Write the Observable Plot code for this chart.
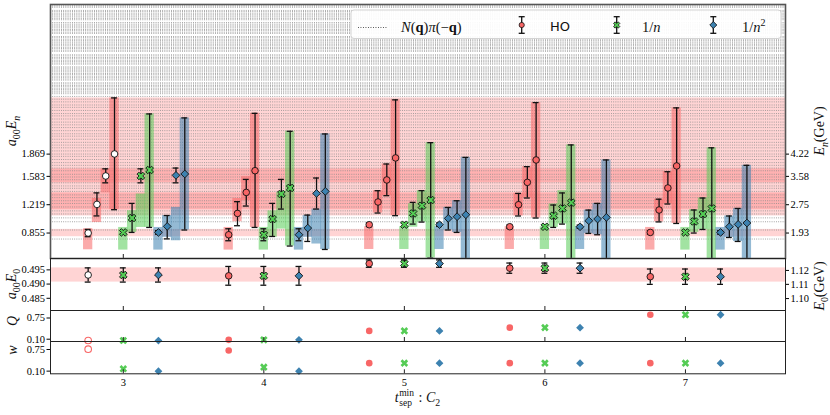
<!DOCTYPE html>
<html><head><meta charset="utf-8">
<script src="https://cdn.jsdelivr.net/npm/d3@7"></script>
<script src="https://cdn.jsdelivr.net/npm/@observablehq/plot@0.6"></script>
<style>
body{margin:0;background:#fff;}
#wrap{position:relative;width:830px;height:415px;overflow:hidden;background:#fff;}
#wrap svg{position:absolute;left:0;overflow:visible;}
</style></head><body><div id="wrap"></div>
<script>
// ---------------- data ----------------
const tGroups = [3, 4, 5, 6, 7];
const fits = ["HO", "1/n", "1/n2"];
const fitColors = ["#f86666", "#55cc55", "#3d82b0"];

// a00 E_n, n = 1..4 : [value, lower, upper]  (one row per t_sep^min group)
const enHO = [
  [[0.855,0.808,0.902],[1.223,1.075,1.371],[1.588,1.500,1.680],[1.871,1.155,2.591]],
  [[0.833,0.756,0.910],[1.107,0.949,1.258],[1.377,1.202,1.544],[1.656,0.927,2.393]],
  [[0.962,0.940,0.985],[1.254,1.112,1.399],[1.537,1.335,1.742],[1.820,1.078,2.566]],
  [[0.936,0.915,0.957],[1.219,1.074,1.364],[1.506,1.305,1.708],[1.794,1.048,2.531]],
  [[0.863,0.840,0.886],[1.151,0.998,1.290],[1.434,1.228,1.643],[1.717,0.978,2.463]]
];
const enN1 = [
  [[0.863,0.840,0.886],[1.048,0.863,1.236],[1.588,1.500,1.680],[1.665,0.927,2.385]],
  [[0.833,0.756,0.910],[1.035,0.811,1.236],[1.357,1.163,1.544],[1.434,0.688,2.162]],
  [[0.962,0.940,0.985],[1.107,0.970,1.249],[1.206,0.996,1.400],[1.279,0.533,2.016]],
  [[0.936,0.915,0.957],[1.077,0.927,1.215],[1.171,0.970,1.370],[1.245,0.500,1.987]],
  [[0.863,0.840,0.886],[1.004,0.855,1.151],[1.099,0.901,1.305],[1.171,0.450,1.950]]
];
const enN2 = [
  [[0.863,0.840,0.886],[0.940,0.780,1.080],[1.596,1.500,1.690],[1.614,0.894,2.334]],
  [[0.833,0.756,0.910],[0.919,0.747,1.086],[1.364,1.163,1.562],[1.390,0.644,2.128]],
  [[0.962,0.940,0.985],[1.043,0.894,1.184],[1.065,0.863,1.270],[1.090,0.400,1.827]],
  [[0.936,0.915,0.957],[1.013,0.850,1.150],[1.035,0.833,1.236],[1.056,0.350,1.794]],
  [[0.863,0.840,0.886],[0.936,0.798,1.074],[0.966,0.747,1.171],[0.984,0.300,1.725]]
];
// prior ranges [lower, upper] for each state
const prHO = [
  [[0.640,0.910],[0.990,1.300],[1.370,1.680],[1.155,2.591]],
  [[0.636,0.927],[1.000,1.300],[1.270,1.580],[0.927,2.393]],
  [[0.644,0.936],[1.112,1.399],[1.335,1.742],[1.078,2.566]],
  [[0.644,0.936],[1.074,1.364],[1.305,1.708],[1.048,2.531]],
  [[0.636,0.927],[0.998,1.290],[1.228,1.643],[0.978,2.463]]
];
const prN1 = [
  [[0.636,0.927],[0.863,1.142],[0.927,1.357],[0.927,2.385]],
  [[0.636,0.927],[0.800,1.140],[0.906,1.377],[0.688,2.162]],
  [[0.644,0.936],[0.930,1.230],[0.996,1.400],[0.533,2.016]],
  [[0.644,0.936],[0.927,1.228],[0.970,1.400],[0.450,1.987]],
  [[0.636,0.927],[0.863,1.155],[0.901,1.305],[0.450,1.950]]
];
const prN2 = [
  [[0.636,0.927],[0.800,1.080],[0.756,1.184],[0.894,2.334]],
  [[0.636,0.927],[0.800,1.080],[0.714,1.163],[0.644,2.128]],
  [[0.644,0.936],[0.894,1.184],[0.863,1.270],[0.400,1.827]],
  [[0.644,0.936],[0.850,1.150],[0.833,1.236],[0.350,1.794]],
  [[0.636,0.927],[0.798,1.074],[0.747,1.171],[0.300,1.725]]
];
// a00 E_0 : [value, error]
const e0HO = [[0.4932,0.0025],[0.4929,0.0033],[0.4972,0.0013],[0.4956,0.0018],[0.4926,0.0027]];
const e0N1 = [[0.4932,0.0025],[0.4929,0.0033],[0.4972,0.0013],[0.4956,0.0018],[0.4926,0.0027]];
const e0N2 = [[0.4932,0.0025],[0.4929,0.0033],[0.4972,0.0013],[0.4956,0.0018],[0.4926,0.0027]];
// fit quality Q and weight w
const qHO = [0.06, 0.08, 0.355, 0.455, 0.85];
const qN1 = [0.06, 0.08, 0.355, 0.455, 0.85];
const qN2 = [0.06, 0.08, 0.355, 0.455, 0.85];
const wHO = [0.76, 0.72, 0.34, 0.34, 0.34];
const wN1 = [0.17, 0.22, 0.34, 0.34, 0.34];
const wN2 = [0.10, 0.10, 0.34, 0.34, 0.34];
// non-interacting N(q) pi(-q) levels (a00 E)
const npiLevels = [0.778, 0.894, 1.000, 1.050, 1.100, 1.140, 1.190, 1.235, 1.270, 1.310, 1.345, 1.390, 1.430, 1.460,
  1.500, 1.540, 1.575, 1.610, 1.655, 1.690, 1.725, 1.760, 1.800, 1.840, 1.870, 1.910, 1.950, 1.985, 2.020,
  2.060, 2.100, 2.130, 2.170, 2.210, 2.245, 2.280, 2.320, 2.360, 2.390, 2.430, 2.470, 2.500, 2.540, 2.575, 2.610,
  2.645, 2.665, 2.680, 2.700, 2.715, 2.735, 2.750, 2.770, 2.785,
  2.820, 2.835, 2.855, 2.870, 2.890, 2.905, 2.925, 2.940, 2.960, 2.975, 2.990,
  3.025, 3.040, 3.060, 3.075, 3.095, 3.110, 3.130, 3.145,
  3.190, 3.205, 3.225, 3.240, 3.260, 3.275, 3.295, 3.310, 3.330, 3.345, 3.365, 3.380,
  3.420, 3.435, 3.455, 3.470, 3.490, 3.505, 3.525, 3.540, 3.560,
  3.595, 3.610, 3.630, 3.645, 3.665, 3.680, 3.700, 3.715,
  3.755, 3.770, 3.785];
// axis ticks
const enTicks = [0.855, 1.219, 1.583, 1.869];
const enTicksGeV = ["1.93", "2.75", "3.58", "4.22"];
const e0Ticks = [0.485, 0.490, 0.495];
const e0TicksGeVPos = [0.4849, 0.4899, 0.4948];
const e0TicksGeV = ["1.10", "1.11", "1.12"];
const qwTicks = [0.10, 0.75];

// ---------------- layout / style ----------------
const W = 830, mL = 50, mR = 45;
const xDom = [2.482, 7.712];
const fitShift = [-0.25, 0, 0.25], stateDodge = 0.0625;
const rectHalf = 0.033, capHalf = 0.021;
const serif = "'Liberation Serif','Times New Roman',serif";
const baseStyle = {fontFamily: serif, fontSize: "10.5px", background: "transparent", overflow: "visible"};

const enTables = [enHO, enN1, enN2], prTables = [prHO, prN1, prN2];
const e0Tables = [e0HO, e0N1, e0N2], qTables = [qHO, qN1, qN2], wTables = [wHO, wN1, wN2];

const symX = {draw(ctx, size) {
  const r = Math.sqrt(size / 5) / 2, c = Math.SQRT1_2;
  const P = [[-3,-1],[-1,-1],[-1,-3],[1,-3],[1,-1],[3,-1],[3,1],[1,1],[1,3],[-1,3],[-1,1],[-3,1]];
  P.forEach(([a, b], i) => { const x = (a - b) * c * r, y = (a + b) * c * r; i ? ctx.lineTo(x, y) : ctx.moveTo(x, y); });
  ctx.closePath();
}};
const fitSymbols = ["circle", symX, "diamond2"];
const fitR = [3.3, 3.4, 3.5];

const pts = [];
fits.forEach((f, fi) => tGroups.forEach((t, ti) => enTables[fi][ti].forEach(([v, lo, hi], si) => {
  const [plo, phi] = prTables[fi][ti][si];
  pts.push({fi, ti, si, x: t + fitShift[fi] + si * stateDodge, v, lo, hi, plo, phi, sel: fi === 0 && ti === 0});
})));
const bands = enHO[0].map(([v, lo, hi]) => ({lo, hi}));

const e0pts = [], qpts = [], wpts = [];
fits.forEach((f, fi) => tGroups.forEach((t, ti) => {
  const x = t + fitShift[fi];
  const [v, e] = e0Tables[fi][ti];
  e0pts.push({fi, x, v, lo: v - e, hi: v + e, sel: fi === 0 && ti === 0});
  qpts.push({fi, x, v: qTables[fi][ti], sel: fi === 0 && ti === 0});
  wpts.push({fi, x, v: wTables[fi][ti], sel: fi === 0 && ti === 0});
}));

function errMarks(data, clip) {
  return [
    Plot.ruleX(data, {x: "x", y1: "lo", y2: "hi", stroke: "#111", strokeWidth: 1.3, clip}),
    Plot.ruleY(data, {y: "lo", x1: d => d.x - capHalf, x2: d => d.x + capHalf, stroke: "#111", strokeWidth: 1.3, clip}),
    Plot.ruleY(data, {y: "hi", x1: d => d.x - capHalf, x2: d => d.x + capHalf, stroke: "#111", strokeWidth: 1.3, clip})
  ];
}
function dotMarks(data, edge) {
  return fits.map((f, fi) => Plot.dot(data.filter(d => d.fi === fi), {
    x: "x", y: "v", r: fitR[fi], symbol: fitSymbols[fi],
    fill: d => d.sel ? (edge ? "white" : "none") : fitColors[fi],
    stroke: d => edge ? "#111" : (d.sel ? fitColors[fi] : "none"),
    strokeWidth: edge ? 0.9 : 1.1
  }));
}
function xTicksInward(innerH) {
  return Plot.ruleX(tGroups, {insetTop: innerH - 4, stroke: "#222", strokeWidth: 1});
}

const wrap = document.getElementById("wrap");
function place(svg, top) {
  svg.style.top = top + "px"; svg.style.position = "absolute"; wrap.appendChild(svg);
  const s = d3.select(svg);
  s.selectAll("text").attr("font-family", serif);
  return s;
}

// ---------------- panel 1 : excited states ----------------
const p1 = Plot.plot({
  width: W, height: 258, marginTop: 4, marginBottom: 0, marginLeft: mL, marginRight: mR,
  style: baseStyle,
  x: {domain: xDom, axis: null},
  y: {domain: [0.528, 3.791], label: null},
  color: {type: "identity"},
  marks: [
    Plot.rect(bands, {x1: () => xDom[0], x2: () => xDom[1], y1: "lo", y2: "hi", fill: "#ff2a2a", fillOpacity: 0.2}),
    Plot.ruleY(npiLevels, {stroke: "#8a8a8a", strokeWidth: 0.85, strokeDasharray: "0.9,1.3"}),
    Plot.rect(pts, {x1: d => d.x - rectHalf, x2: d => d.x + rectHalf, y1: "plo", y2: "phi", fill: d => fitColors[d.fi], fillOpacity: 0.55, clip: true}),
    ...errMarks(pts, true),
    ...dotMarks(pts, true),
    xTicksInward(254),
    Plot.frame({stroke: "#555", strokeWidth: 1.6}),
    Plot.axisY(enTicks, {anchor: "left", tickSize: 3.5, tickPadding: 2, label: null, tickFormat: d => d.toFixed(3)}),
    Plot.axisY(enTicks, {anchor: "right", tickSize: 3, tickPadding: 2, label: null, tickFormat: d => enTicksGeV[enTicks.indexOf(d)]})
  ]
});
const s1 = place(p1, 0);

// ---------------- panel 2 : ground state ----------------
const p2 = Plot.plot({
  width: W, height: 52, marginTop: 0, marginBottom: 0, marginLeft: mL, marginRight: mR,
  style: baseStyle,
  x: {domain: xDom, axis: null},
  y: {domain: [0.4807, 0.4990], label: null},
  color: {type: "identity"},
  marks: [
    Plot.rect([e0HO[0]], {x1: () => xDom[0], x2: () => xDom[1], y1: d => d[0] - d[1], y2: d => d[0] + d[1], fill: "#ff2a2a", fillOpacity: 0.2}),
    ...errMarks(e0pts, false),
    ...dotMarks(e0pts, true),
    xTicksInward(52),
    Plot.frame({stroke: "#222", strokeWidth: 1}),
    Plot.axisY(e0Ticks, {anchor: "left", tickSize: 3.5, tickPadding: 2, label: null, tickFormat: d => d.toFixed(3)}),
    Plot.axisY(e0TicksGeVPos, {anchor: "right", tickSize: 3, tickPadding: 2, label: null, tickFormat: d => e0TicksGeV[e0TicksGeVPos.indexOf(d)]})
  ]
});
const s2 = place(p2, 258);

// ---------------- panel 3 : Q ----------------
const p3 = Plot.plot({
  width: W, height: 31, marginTop: 0, marginBottom: 0, marginLeft: mL, marginRight: mR,
  style: baseStyle,
  x: {domain: xDom, axis: null},
  y: {domain: [0.03, 0.98], label: null},
  color: {type: "identity"},
  marks: [
    ...dotMarks(qpts, false),
    xTicksInward(31),
    Plot.frame({stroke: "#222", strokeWidth: 1}),
    Plot.axisY(qwTicks, {anchor: "left", tickSize: 3.5, tickPadding: 2, label: null, tickFormat: d => d.toFixed(2)})
  ]
});
const s3 = place(p3, 310);

// ---------------- panel 4 : w ----------------
const p4 = Plot.plot({
  width: W, height: 74, marginTop: 0, marginBottom: 41.7, marginLeft: mL, marginRight: mR,
  style: baseStyle,
  x: {domain: xDom, label: null, axis: null},
  y: {domain: [0.02, 0.99], label: null},
  color: {type: "identity"},
  marks: [
    ...dotMarks(wpts, false),
    xTicksInward(32.3),
    Plot.frame({stroke: "#222", strokeWidth: 1}),
    Plot.axisY(qwTicks, {anchor: "left", tickSize: 3.5, tickPadding: 2, label: null, tickFormat: d => d.toFixed(2)}),
    Plot.axisX(tGroups, {anchor: "bottom", tickSize: 0, tickPadding: 5, label: null, tickFormat: d => String(d)})
  ]
});
const s4 = place(p4, 341);

// ---------------- text helpers ----------------
function mathText(sel, x, y, parts, {size = 14, rotate = 0, anchor = "middle", family = serif} = {}) {
  const g = sel.append("g").attr("transform", `translate(${x},${y}) rotate(${rotate})`);
  const t = g.append("text").attr("font-family", family).attr("font-size", size).attr("text-anchor", anchor).attr("fill", "#111");
  let shift = 0;
  for (const p of parts) {
    const target = p.sub ? size * 0.28 : p.sup ? -size * 0.42 : 0;
    t.append("tspan").text(p.t).attr("dy", target - shift)
      .attr("font-size", (p.sub || p.sup) ? size * 0.7 : size)
      .attr("font-style", p.i ? "italic" : "normal")
      .attr("font-weight", p.b ? "bold" : "normal");
    shift = target;
  }
  return t;
}

// axis titles
mathText(s1, 16, 131, [{t: "a", i: 1}, {t: "00", sub: 1}, {t: "E", i: 1}, {t: "n", sub: 1, i: 1}], {rotate: -90});
mathText(s1, 824, 131, [{t: "E", i: 1}, {t: "n", sub: 1, i: 1}, {t: "(GeV)"}], {rotate: -90});
mathText(s2, 16, 26, [{t: "a", i: 1}, {t: "00", sub: 1}, {t: "E", i: 1}, {t: "0", sub: 1}], {rotate: -90});
mathText(s2, 824, 28, [{t: "E", i: 1}, {t: "0", sub: 1}, {t: "(GeV)"}], {rotate: -90});
mathText(s3, 17, 11, [{t: "Q", i: 1}], {rotate: -90});
mathText(s4, 17, 9, [{t: "w", i: 1}], {rotate: -90});

// x title: t_sep^min : C_2
{
  const g = s4.append("g");
  const t = g.append("text").attr("font-family", serif).attr("font-size", 14).attr("fill", "#111").attr("text-anchor", "start");
  t.append("tspan").attr("font-style", "italic").text("t");
  const sup = t.append("tspan").attr("font-size", 9.5).attr("dy", -6).attr("dx", 0.6).text("min");
  const wmin = sup.node().getComputedTextLength();
  const sub = t.append("tspan").attr("font-size", 9.5).attr("dy", 10).attr("dx", -wmin).text("sep");
  const wsep = sub.node().getComputedTextLength();
  t.append("tspan").attr("dy", -4).attr("dx", Math.max(0, wmin - wsep) + 1).text(" : ");
  t.append("tspan").attr("font-style", "italic").text("C");
  t.append("tspan").attr("font-size", 9.8).attr("dy", 3.5).text("2");
  const bb = g.node().getBBox();
  g.attr("transform", `translate(${(mL + W - mR) / 2 - bb.width / 2 - bb.x},61)`);
}

// ---------------- legend ----------------
{
  const lg = s1.append("g").attr("text-anchor", "start");
  lg.append("rect").attr("x", 351).attr("y", 10).attr("width", 430).attr("height", 28.5).attr("rx", 3)
    .attr("fill", "white").attr("fill-opacity", 0.92).attr("stroke", "#d4d4d4").attr("stroke-width", 1);
  lg.append("line").attr("x1", 358).attr("x2", 388).attr("y1", 27.5).attr("y2", 27.5)
    .attr("stroke", "#333").attr("stroke-width", 0.9).attr("stroke-dasharray", "0.9,1.6");
  const lt = lg.append("text").attr("x", 401).attr("y", 32).attr("text-anchor", "start").attr("font-family", serif).attr("font-size", 14.5).attr("fill", "#111");
  [["N", "i"], ["(", ""], ["q", "b"], [")", ""], ["π", "i"], ["(−", ""], ["q", "b"], [")", ""]].forEach(([s, st]) => {
    lt.append("tspan").text(s).attr("font-style", st === "i" ? "italic" : "normal").attr("font-weight", st === "b" ? "bold" : "normal");
  });
  const items = [
    {x: 521.7, fi: 0},
    {x: 616.7, fi: 1},
    {x: 713.3, fi: 2}
  ];
  items.forEach(it => {
    lg.append("line").attr("x1", it.x).attr("x2", it.x).attr("y1", 16.7).attr("y2", 33.3).attr("stroke", "#111").attr("stroke-width", 1.3);
    [16.7, 33.3].forEach(yy => lg.append("line").attr("x1", it.x - 3).attr("x2", it.x + 3).attr("y1", yy).attr("y2", yy).attr("stroke", "#111").attr("stroke-width", 1.3));
    const r = it.fi === 0 ? 2.6 : it.fi === 1 ? 2.8 : 2.8;
    const type = it.fi === 0 ? d3.symbolCircle : it.fi === 1 ? symX : d3.symbolSquare;
    const path = d3.symbol().type(type).size(Math.PI * r * r)();
    lg.append("path").attr("d", path).attr("transform", `translate(${it.x},25) rotate(${it.fi === 2 ? 45 : 0})`)
      .attr("fill", fitColors[it.fi]).attr("stroke", "#111").attr("stroke-width", 0.8);
  });
  lg.append("text").attr("x", 550).attr("y", 31).attr("text-anchor", "start").attr("font-family", "'DejaVu Sans',sans-serif").attr("font-size", 13).attr("fill", "#111").text("HO");
  const t1 = lg.append("text").attr("x", 642).attr("y", 32).attr("text-anchor", "start").attr("font-family", serif).attr("font-size", 14.5).attr("fill", "#111");
  t1.append("tspan").text("1/"); t1.append("tspan").attr("font-style", "italic").text("n");
  const t2 = lg.append("text").attr("x", 742).attr("y", 32).attr("text-anchor", "start").attr("font-family", serif).attr("font-size", 14.5).attr("fill", "#111");
  t2.append("tspan").text("1/"); t2.append("tspan").attr("font-style", "italic").text("n");
  t2.append("tspan").attr("font-size", 10).attr("dy", -6).text("2");
}
</script></body></html>
